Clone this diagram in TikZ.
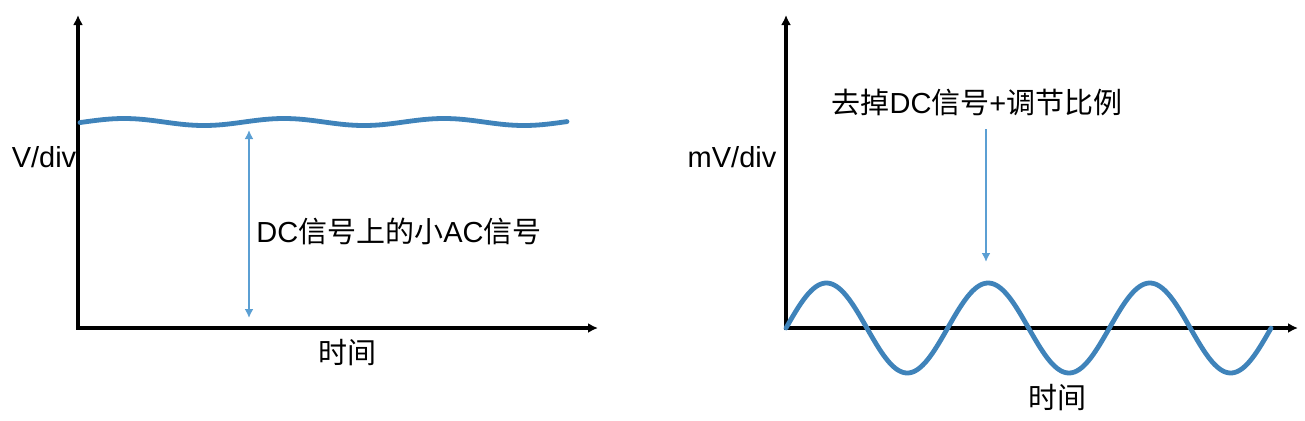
\documentclass[tikz,border=0pt]{standalone}
\usepackage{fontspec}
\setmainfont{Liberation Sans}
\newfontfamily\cjk{Noto Sans CJK SC}
\usepackage{tikz}
\usetikzlibrary{arrows.meta,calc,positioning}
\definecolor{wavecol}{HTML}{3F83BA}
\definecolor{markcol}{HTML}{5B9FD3}
\tikzset{
  axis/.style={line width=1.75pt,-{Latex[length=5pt,width=5pt]}},
  wave/.style={wavecol,line width=2.4pt,line cap=round},
  marker/.style={markcol,line width=1.2pt},
  lbl/.style={font=\fontsize{14.5pt}{18pt}\selectfont,inner sep=1pt}
}
\begin{document}
\begin{tikzpicture}[x=0.5pt,y=0.5pt]
\useasboundingbox (0,0) rectangle (1305,420);
% left panel
\coordinate (O1) at (78,92);
\coordinate (Y1) at (78,405);
\coordinate (X1) at (598,92);
\draw[axis] ($(O1)+(0,-1.5)$) -- (Y1);
\draw[axis] ($(O1)+(-2,0)$) -- (X1);
\draw[wave] plot[domain=80:567,samples=150] (\x,{298+3.5*cos((\x-124)*2.25)});
\coordinate (A1) at (249,290);
\coordinate (B1) at (249,102);
\draw[marker,{Latex[length=4.5pt,width=4.5pt]}-{Latex[length=4.5pt,width=4.5pt]}] (A1) -- (B1);
\node[lbl,anchor=west] (dc) at (254,189) {DC{\cjk 信号上的小}AC{\cjk 信号}};
\node[lbl] (v1) at (44,263) {V/div};
\node[lbl] (t1) at (347,67) {\cjk 时间};
% right panel
\coordinate (O2) at (786,92);
\coordinate (Y2) at (786,405);
\coordinate (X2) at (1298,92);
\draw[axis] ($(O2)+(0,-1.5)$) -- (Y2);
\draw[axis] ($(O2)+(-2,0)$) -- (X2);
\draw[wave] plot[domain=786:1271,samples=250] (\x,{92+45*sin((\x-786)*2.2263)});
\node[lbl] (rm) at (977,317) {{\cjk 去掉}DC{\cjk 信号}+{\cjk 调节比例}};
\coordinate (A2) at (986,291);
\coordinate (B2) at (986,158);
\draw[marker,-{Latex[length=4.5pt,width=4.5pt]}] (A2) -- (B2);
\node[lbl] (v2) at (732,263) {mV/div};
\node[lbl] (t2) at (1057,22) {\cjk 时间};
\end{tikzpicture}
\end{document}
